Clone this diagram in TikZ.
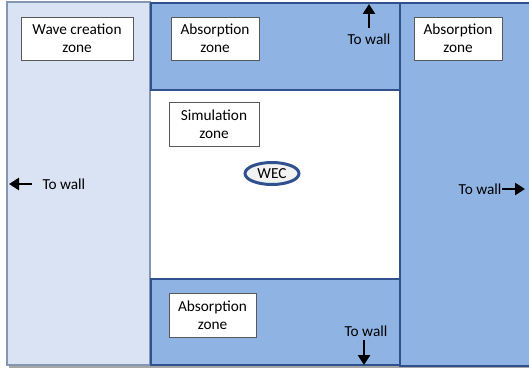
\documentclass[tikz,border=0pt]{standalone}
\usepackage{fontspec}
\setmainfont{Carlito}
\usepackage{xcolor}
\usepackage{tikz}
\usetikzlibrary{positioning,arrows.meta,shapes.geometric}

\definecolor{creafill}{HTML}{DAE3F3}
\definecolor{creaedge}{HTML}{8497B0}
\definecolor{absfill}{HTML}{8FB4E3}
\definecolor{absedge}{HTML}{2F528F}
\definecolor{boxedge}{HTML}{595959}
\definecolor{wecfill}{HTML}{F2F2F2}

\tikzset{
    zonebox/.style = {draw = boxedge, fill = white, line width = 0.9pt,
                      align = center, inner sep = 0pt,
                      minimum width = 88pt, minimum height = 43pt},
    wallarrow/.style = {-{Triangle[length = 10pt, width = 12pt]}, line width = 2.6pt, black},
    absorb/.style = {draw = absedge, fill = absfill, line width = 2.4pt}
}

\begin{document}
\begin{tikzpicture}[x = 1pt, y = -1pt,
                    every node/.append style = {font = \fontsize{15.3}{18}\selectfont}]
\useasboundingbox (0,0) rectangle (529,369);
% shadow and zones
\fill[gray!70] (9,5) rectangle (531,368);
\draw[draw = creaedge, fill = creafill, line width = 1.4pt] (7,2) rectangle (150,365);
\fill[white] (151,90) rectangle (400,279);
\draw[absorb] (151,3) rectangle (400,90);
\draw[absorb] (151,279) rectangle (400,365);
\draw[absorb] (400,3) rectangle (532,366);

% labels
\node[zonebox, minimum width = 112pt] (wave) at (77,38.5) {Wave creation\\zone};
\node[zonebox] (abstop) at (215,38.5) {Absorption\\zone};
\node[zonebox] (absright) at (458,38.5) {Absorption\\zone};
\node[zonebox, minimum width = 90pt, minimum height = 44pt] (sim) at (214,124) {Simulation\\zone};
\node[zonebox, minimum width = 87pt, minimum height = 44pt] (absbot) at (212.5,315) {Absorption\\zone};
\node[draw = absedge, fill = wecfill, line width = 3pt, ellipse, inner sep = 0pt,
      minimum width = 54pt, minimum height = 22pt] (wec) at (272,173.5) {WEC};

% walls
\node[anchor = west] (wleft) at (39,184) {To wall};
\coordinate[left = 30pt of wleft.west] (eleft);
\draw[wallarrow] ([xshift = -7pt]wleft.west) -- (eleft);

\node (wtop) at (369,39) {To wall};
\coordinate (etop) at (369,4);
\draw[wallarrow] (wtop.north) ++(0,-2) coordinate (stop) (stop) -- (etop);

\node[anchor = east] (wright) at (505,189) {To wall};
\coordinate (eright) at (525,189);
\draw[wallarrow] ([xshift = -3pt]wright.east) -- (eright);

\node (wbot) at (366,331) {To wall};
\coordinate (ebot) at (364,365);
\draw[wallarrow] (wbot.south -| ebot) -- (ebot);
\end{tikzpicture}
\end{document}
